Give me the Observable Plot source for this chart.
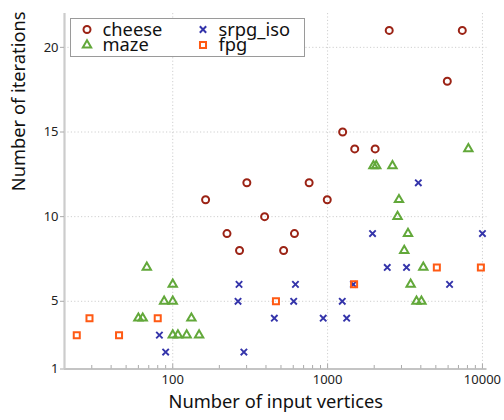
<!DOCTYPE html>
<html><head><meta charset="utf-8">
<script src="https://cdn.jsdelivr.net/npm/d3@7"></script>
<script src="https://cdn.jsdelivr.net/npm/@observablehq/plot@0.6"></script>
<style>
html,body{margin:0;padding:0;background:#fff;}
#chart{position:relative;width:504px;height:420px;font-family:"Noto Sans",sans-serif;}
</style></head><body><div id="chart"></div>
<script>
// ---- data ----
const seriesNames = ["cheese", "maze", "srpg_iso", "fpg"];
const cheeseX = [163, 224, 270, 301, 392, 520, 611, 760, 995, 1251, 1497, 2028, 2500, 5930, 7410];
const cheeseY = [11, 9, 8, 12, 10, 8, 9, 12, 11, 15, 14, 14, 21, 18, 21];
const mazeX = [68, 100, 88, 100, 60, 64, 132, 100, 108, 123, 148, 1977, 2061, 2624, 2890, 2830, 3305, 3126, 4150, 3438, 3751, 4036, 8110];
const mazeY = [7, 6, 5, 5, 4, 4, 4, 3, 3, 3, 3, 13, 13, 13, 11, 10, 9, 8, 7, 6, 5, 5, 14];
const srpgX = [82, 90, 268, 264, 288, 453, 604, 620, 937, 1244, 1328, 1467, 1951, 2428, 3234, 3854, 6133, 10000];
const srpgY = [3, 2, 6, 5, 2, 4, 5, 6, 4, 5, 4, 6, 9, 7, 7, 12, 6, 9];
const fpgX = [24, 29, 45, 80, 464, 1483, 5075, 9770];
const fpgY = [3, 4, 3, 4, 5, 6, 7, 7];
const xTicks = [100, 1000, 10000];
const xMinorTicks = [30, 40, 50, 60, 70, 80, 90, 200, 300, 400, 500, 600, 700, 800, 900, 2000, 3000, 4000, 5000, 6000, 7000, 8000, 9000];
const yTicks = [1, 5, 10, 15, 20];
const xDomain = [20, 10700];
const yDomain = [1, 22];

// ---- styles ----
const colors = {cheese: "#9b2315", maze: "#62a83a", srpg_iso: "#3434aa", fpg: "#ff5a14"};
const symbols = {cheese: "circle", maze: "triangle", srpg_iso: "times", fpg: "square"};
const radii = {cheese: 3.5, maze: 3.1, srpg_iso: 3.0, fpg: 3.4};

const build = (name, xs, ys) => xs.map((x, i) => ({series: name, x, y: ys[i]}));
const series = {
  cheese: build("cheese", cheeseX, cheeseY),
  maze: build("maze", mazeX, mazeY),
  srpg_iso: build("srpg_iso", srpgX, srpgY),
  fpg: build("fpg", fpgX, fpgY)
};

const W = 504, H = 420, mL = 64, mR = 17.5, mT = 13, mB = 51.5;
const innerH = H - mT - mB;

const gridStyle = {stroke: "#cfcfcf", strokeDasharray: "1.2,2.2", strokeOpacity: 1};

const marks = [
  Plot.gridX(xTicks, gridStyle),
  Plot.gridY(yTicks.filter(d => d > 1), gridStyle),
  Plot.tickX(xMinorTicks, {x: d => d, stroke: "#aaa", insetTop: innerH - 3.5}),
  Plot.tickX(xTicks, {x: d => d, stroke: "#aaa", insetTop: innerH - 5}),
  Plot.ruleY([yDomain[0]], {stroke: "#b0b0b0", strokeWidth: 1.3}),
  Plot.ruleX([xDomain[0]], {stroke: "#cccccc", strokeWidth: 2.2}),
  Plot.axisX(xTicks, {tickSize: 0, tickPadding: 6, tickFormat: d => String(d), fontSize: 13, color: "#222", label: null}),
  Plot.axisY(yTicks, {tickSize: 4, tickPadding: 2, tickFormat: () => "", color: "#aaa", label: null}),
  Plot.axisY(yTicks, {tickSize: 0, tickPadding: 6, tickFormat: d => String(d), fontSize: 13, color: "#222", label: null}),
  ...seriesNames.map(n => Plot.dot(series[n], {
    x: "x", y: "y", symbol: () => symbols[n], r: radii[n],
    fill: "none", stroke: colors[n], strokeWidth: n === "srpg_iso" ? 1.9 : 2
  })),
  Plot.text(["Number of input vertices"], {text: d => d, frameAnchor: "bottom", dy: 33, lineAnchor: "middle", fontSize: 18.3, fill: "#111"}),
  Plot.text(["Number of iterations"], {text: d => d, frameAnchor: "left", dx: -45, rotate: -90, lineAnchor: "middle", fontSize: 18.3, fill: "#111"})
];

const chart = Plot.plot({
  width: W, height: H,
  marginLeft: mL, marginRight: mR, marginTop: mT, marginBottom: mB,
  style: {fontFamily: "'Noto Sans', sans-serif", background: "#fff"},
  x: {type: "log", domain: xDomain, axis: null},
  y: {type: "linear", domain: yDomain, axis: null},
  symbol: {domain: Object.values(symbols), range: Object.values(symbols)},
  marks
});
document.getElementById("chart").appendChild(chart);

// ---- legend (inside the svg, top-left) ----
const svg = d3.select(chart);
const lg = svg.append("g").attr("class", "legend").attr("text-anchor", "start");
lg.append("rect").attr("x", 70.5).attr("y", 18.5).attr("width", 234).attr("height", 38)
  .attr("fill", "#fff").attr("stroke", "#9a9a9a").attr("stroke-width", 1);
const d3sym = {circle: d3.symbolCircle, triangle: d3.symbolTriangle, times: d3.symbolTimes, square: d3.symbolSquare};
const legendPos = [[87, 29.5], [87, 45], [203, 29.5], [203, 45]];
const order = ["cheese", "maze", "srpg_iso", "fpg"];
order.forEach((n, i) => {
  const [lx, ly] = legendPos[i];
  const r = radii[n];
  lg.append("path")
    .attr("d", d3.symbol(d3sym[symbols[n]], Math.PI * r * r)())
    .attr("transform", `translate(${lx},${ly})`)
    .attr("fill", "none").attr("stroke", colors[n]).attr("stroke-width", 2);
  lg.append("text").attr("x", lx + 15.5).attr("y", ly).attr("dy", "0.35em")
    .attr("text-anchor", "start")
    .attr("font-size", 18.3).attr("fill", "#111").text(n);
});
</script></body></html>
